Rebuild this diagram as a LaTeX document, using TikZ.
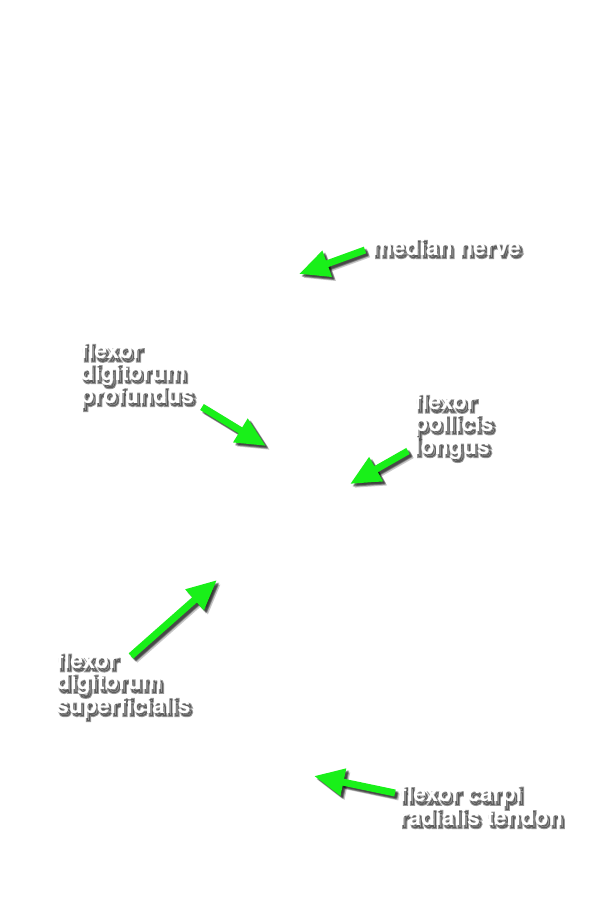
\documentclass[tikz,border=0pt]{standalone}
\usepackage{fontspec}
\setmainfont{TeX Gyre Heros}
\usetikzlibrary{arrows.meta}
\definecolor{arrowgreen}{RGB}{25,240,25}
\tikzset{
  lbl/.style={anchor=base west, inner sep=0pt, align=left, font=\fontsize{23}{21.5}\selectfont\bfseries},
  lblshadow/.style={lbl, text=black, opacity=0.4},
  arr/.style={line width=7pt, -{Triangle[length=30pt,width=26pt]}},
  arrshadow/.style={arr, draw=black, opacity=0.22},
}
\newif\ifshd
\newcommand{\strk}[1]{\ifshd\special{pdf:literal direct 2 Tr 2 w}#1\special{pdf:literal direct 0 Tr}\else#1\fi}
\newcommand{\shadowlabel}[3]{%
  \shdtrue
  \node[lblshadow] at ([shift={(2.5,3)}]#2) {#3};
  \shdfalse
  \node[lbl, text=white] (#1) at (#2) {#3};
}
\newcommand{\shadowarrow}[2]{%
  \foreach \dx/\dy in {2/2,3/3,4/4,3/2,2/3}{
    \draw[arrshadow] ([shift={(\dx,\dy)}]#1) -- ([shift={(\dx,\dy)}]#2);
  }
  \draw[arr, draw=arrowgreen, fill=arrowgreen] (#1) -- (#2);
}
\begin{document}
\begin{tikzpicture}[x=1pt,y=-1pt]
\useasboundingbox[fill=white] (0,0) rectangle (598,900);
% anchor points (baseline of last line)
\coordinate (p1) at (372,255);
\coordinate (p2) at (80,403);
\coordinate (p3) at (414,454);
\coordinate (p4) at (56,713);
\coordinate (p5) at (399,825);
% arrow ends
\coordinate (t1) at (365,250); \coordinate (h1) at (299,274);
\coordinate (t2) at (202,407); \coordinate (h2) at (266,446);
\coordinate (t3) at (408,451); \coordinate (h3) at (350,484);
\coordinate (t4) at (131,656); \coordinate (h4) at (217,580);
\coordinate (t5) at (395,793); \coordinate (h5) at (314,776);
\shadowarrow{t1}{h1}
\shadowarrow{t2}{h2}
\shadowarrow{t3}{h3}
\shadowarrow{t4}{h4}
\shadowarrow{t5}{h5}
\shadowlabel{median}{p1}{\strk{median nerve}}
\shadowlabel{fdp}{p2}{\strk{flexor}\\\strk{digitorum}\\\strk{profundus}}
\shadowlabel{fpl}{p3}{\strk{flexor}\\\strk{pollicis}\\\strk{longus}}
\shadowlabel{fds}{p4}{\strk{flexor}\\\strk{digitorum}\\\strk{superficialis}}
\shadowlabel{fcr}{p5}{\strk{flexor carpi}\\\strk{radialis tendon}}
\end{tikzpicture}
\end{document}
